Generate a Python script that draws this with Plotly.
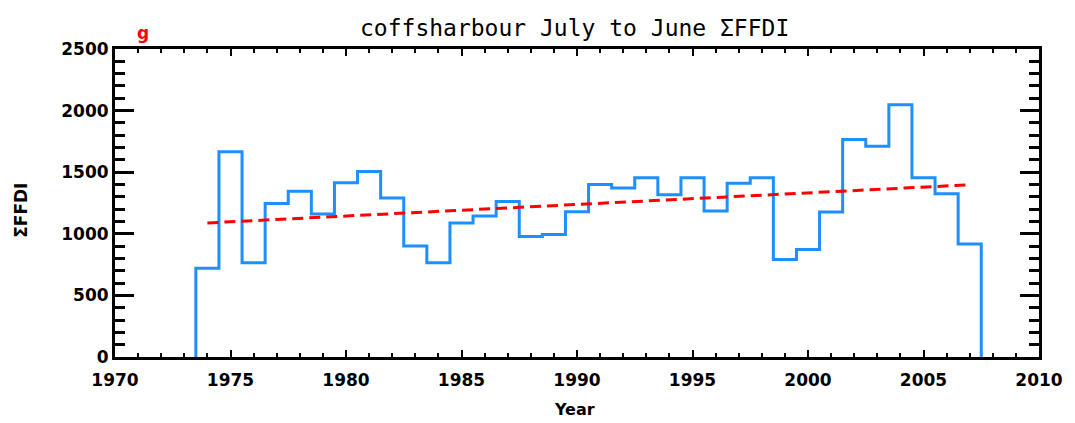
import plotly.graph_objects as go

# July-to-June accumulated FFDI for Coffs Harbour, one value per year
years = list(range(1974, 2008))
ffdi_sum = [
    720, 1665, 765, 1245, 1345, 1160, 1415, 1505, 1290, 900,
    765, 1088, 1145, 1262, 978, 994, 1178, 1400, 1372, 1455,
    1316, 1455, 1185, 1410, 1455, 792, 873, 1176, 1765, 1710,
    2048, 1455, 1325, 918,
]

# Linear trend end points
trend_years = [1974, 2007]
trend_values = [1088, 1398]

# Bin edges half a year either side of each year, closed down to zero at both ends
step_x = [years[0] - 0.5] + [y + 0.5 for y in years] + [years[-1] + 0.5]
step_y = [0] + ffdi_sum + [0]

fig = go.Figure()
fig.add_trace(go.Scatter(
    x=step_x, y=step_y, mode="lines", line_shape="vh",
    line=dict(color="#1E8FFF", width=3), showlegend=False,
))
fig.add_trace(go.Scatter(
    x=trend_years, y=trend_values, mode="lines",
    line=dict(color="#FF0000", width=3, dash="11px,6px"), showlegend=False,
))

tick_font = dict(family="DejaVu Sans", size=17, color="black", weight="bold")

fig.update_layout(
    width=1075, height=423,
    margin=dict(l=115, r=27, t=49, b=66),
    paper_bgcolor="white", plot_bgcolor="white",
    xaxis=dict(
        range=[1970, 2010], tickmode="linear", tick0=1970, dtick=5,
        ticks="inside", ticklen=7, tickwidth=2, tickcolor="black",
        minor=dict(dtick=1, ticks="inside", ticklen=4, tickwidth=2, tickcolor="black"),
        showline=True, linecolor="black", linewidth=3, mirror="ticks",
        showgrid=False, zeroline=False, tickfont=tick_font, ticklabelstandoff=6,
    ),
    yaxis=dict(
        range=[0, 2500], tickmode="linear", tick0=0, dtick=500,
        ticks="inside", ticklen=19, tickwidth=3, tickcolor="black",
        minor=dict(dtick=100, ticks="inside", ticklen=10, tickwidth=3, tickcolor="black"),
        showline=True, linecolor="black", linewidth=3, mirror="ticks",
        showgrid=False, zeroline=False, tickfont=tick_font,
    ),
    annotations=[
        dict(text="coffsharbour July to June ΣFFDI", xref="paper", yref="paper",
             x=0.497, y=1.068, showarrow=False, xanchor="center", yanchor="middle",
             font=dict(family="DejaVu Sans Mono", size=23, color="black")),
        dict(text="g", xref="paper", yref="paper", x=0.030, y=1.052,
             showarrow=False, xanchor="center", yanchor="middle",
             font=dict(family="DejaVu Sans", size=17, color="red", weight="bold")),
        dict(text="ΣFFDI", xref="paper", yref="paper", x=-0.102, y=0.477,
             textangle=-90, showarrow=False, xanchor="center", yanchor="middle",
             font=dict(family="DejaVu Sans", size=17, color="black", weight="bold")),
        dict(text="Year", xref="paper", yref="paper", x=0.497, y=-0.172,
             showarrow=False, xanchor="center", yanchor="middle",
             font=dict(family="DejaVu Sans", size=16, color="black", weight="bold")),
    ],
)

fig.write_html("out.html")
